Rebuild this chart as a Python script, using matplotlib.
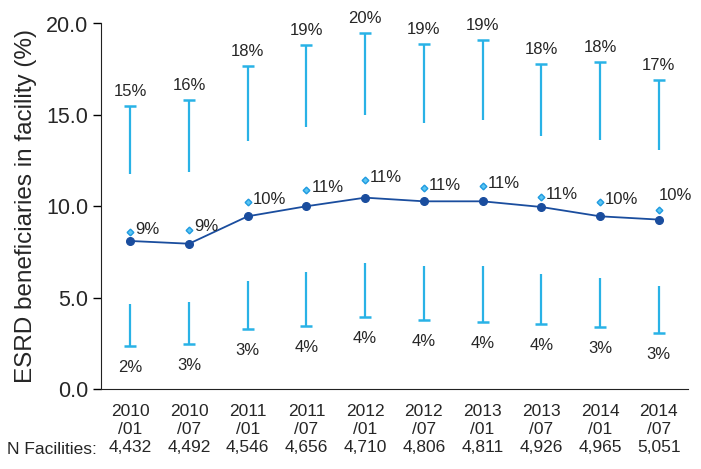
import numpy as np
import matplotlib.pyplot as plt

plt.rcParams['font.family'] = ['Liberation Sans', 'DejaVu Sans']

periods = ['2010\n/01', '2010\n/07', '2011\n/01', '2011\n/07', '2012\n/01',
           '2012\n/07', '2013\n/01', '2013\n/07', '2014\n/01', '2014\n/07']
n_facilities = ['4,432', '4,492', '4,546', '4,656', '4,710',
                '4,806', '4,811', '4,926', '4,965', '5,051']

# median line (dark blue)
median = [8.1, 7.95, 9.45, 10.0, 10.47, 10.27, 10.27, 9.96, 9.45, 9.27]
# mean (light diamonds)
mean = [8.6, 8.72, 10.21, 10.87, 11.42, 11.0, 11.1, 10.5, 10.21, 9.81]
mean_lbl = ['9%', '9%', '10%', '11%', '11%', '11%', '11%', '11%', '10%', '10%']
# upper whisker: from upper_lo to upper_hi (cap)
upper_hi = [15.47, 15.8, 17.68, 18.8, 19.49, 18.9, 19.08, 17.81, 17.88, 16.89]
upper_lo = [11.78, 11.87, 13.55, 14.34, 14.98, 14.58, 14.7, 13.85, 13.65, 13.06]
upper_lbl = ['15%', '16%', '18%', '19%', '20%', '19%', '19%', '18%', '18%', '17%']
# lower whisker: from lower_hi down to lower_lo (cap)
lower_hi = [4.63, 4.74, 5.9, 6.4, 6.91, 6.71, 6.71, 6.31, 6.09, 5.61]
lower_lo = [2.35, 2.46, 3.26, 3.44, 3.95, 3.79, 3.66, 3.57, 3.38, 3.08]
lower_lbl = ['2%', '3%', '3%', '4%', '4%', '4%', '4%', '4%', '3%', '3%']

cyan = '#29b2e6'
dark = '#1a4d9e'
diam = '#1e9ae0'
txt = '#262626'

fig = plt.figure(figsize=(7.01, 4.69), dpi=100)
ax = fig.add_axes([101 / 701, 80 / 469, 587 / 701, 365.5 / 469])

x = np.arange(len(periods))

# whiskers
ax.vlines(x, upper_lo, upper_hi, color=cyan, lw=1.6)
ax.vlines(x, lower_lo, lower_hi, color=cyan, lw=1.6)
ax.plot(x, upper_hi, ls='none', marker='_', ms=8.5, mew=1.8, color=cyan)
ax.plot(x, lower_lo, ls='none', marker='_', ms=8.5, mew=1.8, color=cyan)

# median line
ax.plot(x, median, color=dark, lw=1.3, marker='o', ms=5.5, zorder=3)

# mean diamonds
ax.plot(x, mean, ls='none', marker='D', ms=3.4, mfc='#5cc6f2', mec=diam,
        mew=1.0, zorder=3)

for i in x:
    ax.annotate(upper_lbl[i], (i, upper_hi[i]), xytext=(0, 5),
                textcoords='offset points', ha='center', va='bottom',
                fontsize=12, color=txt)
    ax.annotate(lower_lbl[i], (i, lower_lo[i]), xytext=(0, -10),
                textcoords='offset points', ha='center', va='top',
                fontsize=12, color=txt)
    if i == len(x) - 1:
        ax.annotate(mean_lbl[i], (i, mean[i]), xytext=(0, 5),
                    textcoords='offset points', ha='left', va='bottom',
                    fontsize=12, color=txt)
    else:
        ax.annotate(mean_lbl[i], (i, mean[i]), xytext=(3.5, 2),
                    textcoords='offset points', ha='left', va='center',
                    fontsize=12, color=txt)

ax.set_xlim(-0.5, 9.5)
ax.set_ylim(0, 20)
ax.set_yticks([0, 5, 10, 15, 20])
ax.set_yticklabels(['0.0', '5.0', '10.0', '15.0', '20.0'], fontsize=15.5,
                   color=txt)
ax.set_xticks(x)
ax.set_xticklabels([p + '\n' + n for p, n in zip(periods, n_facilities)],
                   fontsize=12.5, linespacing=1.22, color=txt)
ax.tick_params(axis='x', length=0, pad=11)
ax.tick_params(axis='y', length=6, width=1, pad=3)
ax.spines['top'].set_visible(False)
ax.spines['right'].set_visible(False)
ax.spines['left'].set_color('#222222')
ax.spines['bottom'].set_color('#222222')
ax.set_ylabel('ESRD beneficiaries in facility (%)', fontsize=17.5,
              labelpad=7, color=txt)

fig.text(97 / 701, 1 - 449 / 469, 'N Facilities:', ha='right', va='center',
         fontsize=12.5, color=txt)

fig.savefig('out.png', dpi=100)
